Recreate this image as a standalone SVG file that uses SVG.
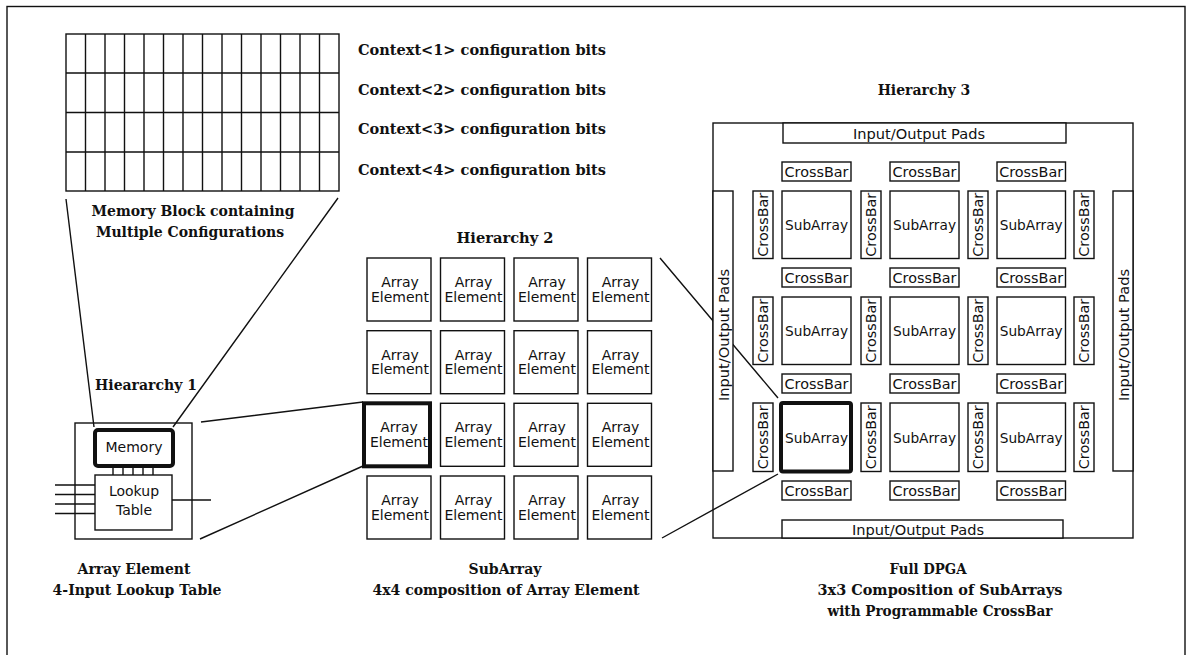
<svg xmlns="http://www.w3.org/2000/svg" width="1187" height="655" viewBox="0 0 1187 655">
<style>
.ln{fill:none;stroke:#111;stroke-width:1.4}
.bx{fill:#fff;stroke:#111;stroke-width:1.4}
.thick{fill:#fff;stroke:#111;stroke-width:4}
.lbl{font-family:"DejaVu Serif","Liberation Serif",serif;font-weight:bold;font-size:14px;fill:#111}
.sn{font-family:"DejaVu Sans","Liberation Sans",sans-serif;font-size:14px;fill:#111}
.mid{text-anchor:middle}
</style>
<rect x="0" y="0" width="1187" height="655" fill="#fff"/>
<rect id="frame" x="7" y="6.5" width="1178" height="700" class="ln"/>

<g id="memory-block">
<rect x="66" y="34" width="273" height="157" class="ln"/>
<path class="ln" d="M85.5 34V191M105 34V191M124.5 34V191M144 34V191M163.5 34V191M183 34V191M202.5 34V191M222 34V191M241.5 34V191M261 34V191M280.5 34V191M300 34V191M319.5 34V191M66 73H339M66 112.5H339M66 152H339"/>
</g>
<g id="context-labels">
<text class="lbl" x="358" y="55" textLength="248" lengthAdjust="spacingAndGlyphs">Context&lt;1&gt; configuration bits</text>
<text class="lbl" x="358" y="95" textLength="248" lengthAdjust="spacingAndGlyphs">Context&lt;2&gt; configuration bits</text>
<text class="lbl" x="358" y="134" textLength="248" lengthAdjust="spacingAndGlyphs">Context&lt;3&gt; configuration bits</text>
<text class="lbl" x="358" y="175" textLength="248" lengthAdjust="spacingAndGlyphs">Context&lt;4&gt; configuration bits</text>
</g>
<g id="memory-caption">
<text class="lbl mid" x="193" y="216">Memory Block containing</text>
<text class="lbl mid" x="190" y="237">Multiple Configurations</text>
</g>

<g id="connectors">
<path class="ln" d="M66 199L94 427M338 198L173 427M201 422L363 402M200 539L363 466M660 258L778 398M662 538L778 474"/>
</g>

<g id="hierarchy1">
<text class="lbl mid" x="146" y="390">Hieararchy 1</text>
<rect x="75" y="423" width="117" height="116" class="ln"/>
<path class="ln" d="M55 485H95M55 494.5H95M55 504H95M55 513.5H95M172 500H211M113 468V475M123 468V475M133 468V475M143 468V475M153 468V475"/>
<g id="memory">
<rect x="95" y="430" width="78" height="36" rx="3" class="thick"/>
<text class="sn mid" x="134" y="452">Memory</text>
</g>
<g id="lookup-table">
<rect x="95" y="475" width="77" height="55" class="bx"/>
<text class="sn mid" x="134" y="496">Lookup</text>
<text class="sn mid" x="134" y="515">Table</text>
</g>
<text class="lbl mid" x="134" y="574">Array Element</text>
<text class="lbl mid" x="137" y="595">4-Input Lookup Table</text>
</g>

<g id="hierarchy2">
<text class="lbl mid" x="505" y="243" textLength="97" lengthAdjust="spacingAndGlyphs">Hierarchy 2</text>
<g id="ae-r1"><rect x="367" y="258" width="64" height="63" class="bx"/><text class="sn mid" x="400" y="287">Array</text><text class="sn mid" x="400" y="301.5">Element</text>
<rect x="440.5" y="258" width="64" height="63" class="bx"/><text class="sn mid" x="473.5" y="287">Array</text><text class="sn mid" x="473.5" y="301.5">Element</text>
<rect x="514" y="258" width="64" height="63" class="bx"/><text class="sn mid" x="547" y="287">Array</text><text class="sn mid" x="547" y="301.5">Element</text>
<rect x="587.5" y="258" width="64" height="63" class="bx"/><text class="sn mid" x="620.5" y="287">Array</text><text class="sn mid" x="620.5" y="301.5">Element</text></g>
<g id="ae-r2"><rect x="367" y="330.7" width="64" height="63" class="bx"/><text class="sn mid" x="400" y="359.7">Array</text><text class="sn mid" x="400" y="374.2">Element</text>
<rect x="440.5" y="330.7" width="64" height="63" class="bx"/><text class="sn mid" x="473.5" y="359.7">Array</text><text class="sn mid" x="473.5" y="374.2">Element</text>
<rect x="514" y="330.7" width="64" height="63" class="bx"/><text class="sn mid" x="547" y="359.7">Array</text><text class="sn mid" x="547" y="374.2">Element</text>
<rect x="587.5" y="330.7" width="64" height="63" class="bx"/><text class="sn mid" x="620.5" y="359.7">Array</text><text class="sn mid" x="620.5" y="374.2">Element</text></g>
<g id="ae-r3"><rect x="364" y="403.3" width="66" height="63" class="thick"/><text class="sn mid" x="399" y="432.3">Array</text><text class="sn mid" x="399" y="446.8">Element</text>
<rect x="440.5" y="403.3" width="64" height="63" class="bx"/><text class="sn mid" x="473.5" y="432.3">Array</text><text class="sn mid" x="473.5" y="446.8">Element</text>
<rect x="514" y="403.3" width="64" height="63" class="bx"/><text class="sn mid" x="547" y="432.3">Array</text><text class="sn mid" x="547" y="446.8">Element</text>
<rect x="587.5" y="403.3" width="64" height="63" class="bx"/><text class="sn mid" x="620.5" y="432.3">Array</text><text class="sn mid" x="620.5" y="446.8">Element</text></g>
<g id="ae-r4"><rect x="367" y="476" width="64" height="63" class="bx"/><text class="sn mid" x="400" y="505">Array</text><text class="sn mid" x="400" y="519.5">Element</text>
<rect x="440.5" y="476" width="64" height="63" class="bx"/><text class="sn mid" x="473.5" y="505">Array</text><text class="sn mid" x="473.5" y="519.5">Element</text>
<rect x="514" y="476" width="64" height="63" class="bx"/><text class="sn mid" x="547" y="505">Array</text><text class="sn mid" x="547" y="519.5">Element</text>
<rect x="587.5" y="476" width="64" height="63" class="bx"/><text class="sn mid" x="620.5" y="505">Array</text><text class="sn mid" x="620.5" y="519.5">Element</text></g>
<text class="lbl mid" x="505" y="574">SubArray</text>
<text class="lbl mid" x="506" y="595">4x4 composition of Array Element</text>
</g>

<g id="hierarchy3">
<text class="lbl mid" x="924" y="95">Hierarchy 3</text>
<rect x="713" y="123" width="420" height="415" class="ln"/>
<g id="io-pads">
<rect x="783" y="123" width="283" height="20" class="bx"/><text class="sn mid" x="919" y="138.5" textLength="132" lengthAdjust="spacingAndGlyphs">Input/Output Pads</text>
<rect x="782" y="520" width="281" height="18" class="bx"/><text class="sn mid" x="918" y="534.5" textLength="132" lengthAdjust="spacingAndGlyphs">Input/Output Pads</text>
<rect x="713" y="191" width="20" height="280" class="bx"/><text class="sn mid" transform="translate(728.5 335) rotate(-90)" textLength="132" lengthAdjust="spacingAndGlyphs">Input/Output Pads</text>
<rect x="1113" y="191" width="20" height="280" class="bx"/><text class="sn mid" transform="translate(1128.5 335) rotate(-90)" textLength="132" lengthAdjust="spacingAndGlyphs">Input/Output Pads</text>
</g>
<g id="subarrays">
<rect x="782" y="191" width="69" height="67.5" class="bx"/><text class="sn mid" x="816.5" y="230" textLength="63" lengthAdjust="spacingAndGlyphs">SubArray</text>
<rect x="890" y="191" width="69" height="67.5" class="bx"/><text class="sn mid" x="924.5" y="230" textLength="63" lengthAdjust="spacingAndGlyphs">SubArray</text>
<rect x="997" y="191" width="68.5" height="67.5" class="bx"/><text class="sn mid" x="1031.2" y="230" textLength="63" lengthAdjust="spacingAndGlyphs">SubArray</text>
<rect x="782" y="297" width="69" height="67.5" class="bx"/><text class="sn mid" x="816.5" y="336" textLength="63" lengthAdjust="spacingAndGlyphs">SubArray</text>
<rect x="890" y="297" width="69" height="67.5" class="bx"/><text class="sn mid" x="924.5" y="336" textLength="63" lengthAdjust="spacingAndGlyphs">SubArray</text>
<rect x="997" y="297" width="68.5" height="67.5" class="bx"/><text class="sn mid" x="1031.2" y="336" textLength="63" lengthAdjust="spacingAndGlyphs">SubArray</text>
<rect x="781" y="403" width="70" height="68.5" rx="2" class="thick"/><text class="sn mid" x="816.5" y="442.5" textLength="63" lengthAdjust="spacingAndGlyphs">SubArray</text>
<rect x="890" y="403" width="69" height="68.5" class="bx"/><text class="sn mid" x="924.5" y="442.5" textLength="63" lengthAdjust="spacingAndGlyphs">SubArray</text>
<rect x="997" y="403" width="68.5" height="68.5" class="bx"/><text class="sn mid" x="1031.2" y="442.5" textLength="63" lengthAdjust="spacingAndGlyphs">SubArray</text>
</g>
<g id="crossbars-h">
<rect x="782" y="162" width="69" height="19" class="bx"/><text class="sn mid" x="816.5" y="176.5" textLength="64" lengthAdjust="spacingAndGlyphs">CrossBar</text>
<rect x="890" y="162" width="69" height="19" class="bx"/><text class="sn mid" x="924.5" y="176.5" textLength="64" lengthAdjust="spacingAndGlyphs">CrossBar</text>
<rect x="997" y="162" width="68.5" height="19" class="bx"/><text class="sn mid" x="1031.2" y="176.5" textLength="64" lengthAdjust="spacingAndGlyphs">CrossBar</text>
<rect x="782" y="268" width="69" height="19" class="bx"/><text class="sn mid" x="816.5" y="282.5" textLength="64" lengthAdjust="spacingAndGlyphs">CrossBar</text>
<rect x="890" y="268" width="69" height="19" class="bx"/><text class="sn mid" x="924.5" y="282.5" textLength="64" lengthAdjust="spacingAndGlyphs">CrossBar</text>
<rect x="997" y="268" width="68.5" height="19" class="bx"/><text class="sn mid" x="1031.2" y="282.5" textLength="64" lengthAdjust="spacingAndGlyphs">CrossBar</text>
<rect x="782" y="374" width="69" height="19" class="bx"/><text class="sn mid" x="816.5" y="388.5" textLength="64" lengthAdjust="spacingAndGlyphs">CrossBar</text>
<rect x="890" y="374" width="69" height="19" class="bx"/><text class="sn mid" x="924.5" y="388.5" textLength="64" lengthAdjust="spacingAndGlyphs">CrossBar</text>
<rect x="997" y="374" width="68.5" height="19" class="bx"/><text class="sn mid" x="1031.2" y="388.5" textLength="64" lengthAdjust="spacingAndGlyphs">CrossBar</text>
<rect x="782" y="481" width="69" height="19" class="bx"/><text class="sn mid" x="816.5" y="495.5" textLength="64" lengthAdjust="spacingAndGlyphs">CrossBar</text>
<rect x="890" y="481" width="69" height="19" class="bx"/><text class="sn mid" x="924.5" y="495.5" textLength="64" lengthAdjust="spacingAndGlyphs">CrossBar</text>
<rect x="997" y="481" width="68.5" height="19" class="bx"/><text class="sn mid" x="1031.2" y="495.5" textLength="64" lengthAdjust="spacingAndGlyphs">CrossBar</text>
</g>
<g id="crossbars-v">
<rect x="753" y="191" width="20" height="67.5" class="bx"/><text class="sn mid" transform="translate(768 224.75) rotate(-90)" textLength="64" lengthAdjust="spacingAndGlyphs">CrossBar</text>
<rect x="861" y="191" width="20" height="67.5" class="bx"/><text class="sn mid" transform="translate(876 224.75) rotate(-90)" textLength="64" lengthAdjust="spacingAndGlyphs">CrossBar</text>
<rect x="968" y="191" width="20" height="67.5" class="bx"/><text class="sn mid" transform="translate(983 224.75) rotate(-90)" textLength="64" lengthAdjust="spacingAndGlyphs">CrossBar</text>
<rect x="1074" y="191" width="20" height="67.5" class="bx"/><text class="sn mid" transform="translate(1089 224.75) rotate(-90)" textLength="64" lengthAdjust="spacingAndGlyphs">CrossBar</text>
<rect x="753" y="297" width="20" height="67.5" class="bx"/><text class="sn mid" transform="translate(768 330.75) rotate(-90)" textLength="64" lengthAdjust="spacingAndGlyphs">CrossBar</text>
<rect x="861" y="297" width="20" height="67.5" class="bx"/><text class="sn mid" transform="translate(876 330.75) rotate(-90)" textLength="64" lengthAdjust="spacingAndGlyphs">CrossBar</text>
<rect x="968" y="297" width="20" height="67.5" class="bx"/><text class="sn mid" transform="translate(983 330.75) rotate(-90)" textLength="64" lengthAdjust="spacingAndGlyphs">CrossBar</text>
<rect x="1074" y="297" width="20" height="67.5" class="bx"/><text class="sn mid" transform="translate(1089 330.75) rotate(-90)" textLength="64" lengthAdjust="spacingAndGlyphs">CrossBar</text>
<rect x="753" y="403" width="20" height="68.5" class="bx"/><text class="sn mid" transform="translate(768 437.25) rotate(-90)" textLength="64" lengthAdjust="spacingAndGlyphs">CrossBar</text>
<rect x="861" y="403" width="20" height="68.5" class="bx"/><text class="sn mid" transform="translate(876 437.25) rotate(-90)" textLength="64" lengthAdjust="spacingAndGlyphs">CrossBar</text>
<rect x="968" y="403" width="20" height="68.5" class="bx"/><text class="sn mid" transform="translate(983 437.25) rotate(-90)" textLength="64" lengthAdjust="spacingAndGlyphs">CrossBar</text>
<rect x="1074" y="403" width="20" height="68.5" class="bx"/><text class="sn mid" transform="translate(1089 437.25) rotate(-90)" textLength="64" lengthAdjust="spacingAndGlyphs">CrossBar</text>
</g>
<text class="lbl mid" x="928" y="574" textLength="77" lengthAdjust="spacingAndGlyphs">Full DPGA</text>
<text class="lbl mid" x="940" y="595" textLength="245" lengthAdjust="spacingAndGlyphs">3x3 Composition of SubArrays</text>
<text class="lbl mid" x="940" y="616" textLength="225" lengthAdjust="spacingAndGlyphs">with Programmable CrossBar</text>
</g>
</svg>
